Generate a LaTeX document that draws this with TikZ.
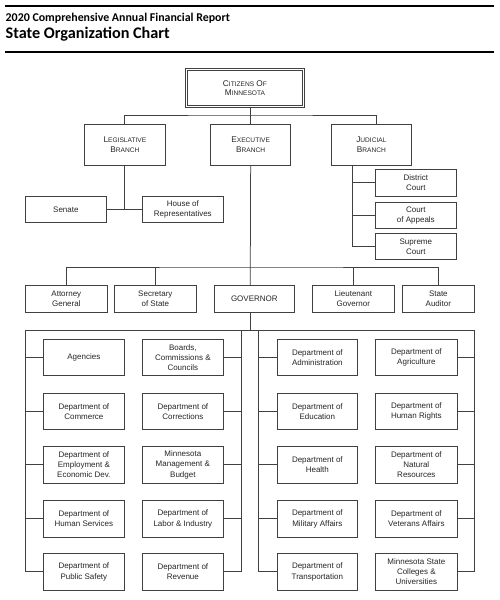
\documentclass[tikz,border=0pt]{standalone}
\usepackage{fontspec}
\setmainfont{Liberation Sans}
\newfontfamily\hdrfont{Carlito}
\newcommand\scx[2]{{\fontsize{8.3}{10}\selectfont #1}{\fontsize{6.6}{10}\selectfont #2}}
\tikzset{
  box/.style={draw=black!75, line width=0.7pt, fill=white, align=center, text=black!85,
    font=\fontsize{8}{10.2}\selectfont, inner sep=0pt, anchor=north west},
  conn/.style={draw=black!75, line width=0.75pt},
  rulel/.style={draw=black, line width=2pt},
  ttl/.style={anchor=base west, inner sep=0pt, text=black},
}
\begin{document}
\begin{tikzpicture}[x=1pt,y=-1pt]
\useasboundingbox[fill=white] (0,0) rectangle (500,600);
% header
\draw[rulel] (5,6) -- (494,6);
\node[ttl, font=\hdrfont\bfseries\fontsize{11.9}{13}\selectfont] (t1) at (5.5,21) {2020 Comprehensive Annual Financial Report};
\node[ttl, font=\hdrfont\bfseries\fontsize{16.2}{18}\selectfont] (t2) at (5.5,38.5) {State Organization Chart};
\draw[rulel, line width=2.3pt] (5,52) -- (494,52);

% citizens
\node[box, minimum width=117pt, minimum height=37pt, line width=0.9pt, double=white, double distance=1.4pt] (cit) at (186,69)
  {\scx{C}{ITIZENS} \scx{O}{F}\\[-1.5pt]\scx{M}{INNESOTA}};

% branches
\node[box, minimum width=81pt, minimum height=41pt] (leg) at (84,124) {\scx{L}{EGISLATIVE}\\\scx{B}{RANCH}};
\node[box, minimum width=80pt, minimum height=41pt] (exe) at (210.3,124) {\scx{E}{XECUTIVE}\\\scx{B}{RANCH}};
\node[box, minimum width=80pt, minimum height=41pt] (jud) at (331,124) {\scx{J}{UDICIAL}\\\scx{B}{RANCH}};
\coordinate (j1) at (250.3,115);
\coordinate (jd) at (376,124);
\draw[conn] (cit.south -| exe.north) -- (exe.north);
\draw[conn] (leg.north) |- (j1) -| (jd);

% legislative
\node[box, minimum width=81pt, minimum height=26pt] (sen) at (25,196) {Senate};
\node[box, minimum width=81pt, minimum height=26pt] (hou) at (142,196) {House of\\Representatives};
\draw[conn] (leg.south) -- (leg.south |- sen.east);
\draw[conn] (sen.east) -- (hou.west);

% judicial
\node[box, minimum width=81pt, minimum height=27pt] (dis) at (375,169) {District\\Court};
\node[box, minimum width=81pt, minimum height=26pt] (app) at (375,202) {Court\\of Appeals};
\node[box, minimum width=81pt, minimum height=26pt] (sup) at (375,233) {Supreme\\Court};
\coordinate (jv) at (352,165);
\draw[conn] (jv) |- (sup.west);
\draw[conn] (jv |- dis.west) -- (dis.west);
\draw[conn] (jv |- app.west) -- (app.west);

% officials
\node[box, minimum width=82pt, minimum height=27pt] (ag) at (25,285) {Attorney\\General};
\node[box, minimum width=82pt, minimum height=27pt] (ss) at (114,285) {Secretary\\of State};
\node[box, minimum width=80pt, minimum height=27pt] (gov) at (214,285) {GOVERNOR};
\node[box, minimum width=82pt, minimum height=27pt] (lg) at (312,285) {Lieutenant\\Governor};
\node[box, minimum width=72pt, minimum height=27pt] (sa) at (402,285) {State\\Auditor};
\coordinate (b2) at (250.3,267);
\coordinate (gt) at (250.3,285);
\coordinate (gb) at (250.3,312);
\coordinate (b3) at (250.3,330);
\draw[conn] (exe.south) -- (b2) -- (gt);
\draw[conn] (ag.north) |- (b2) -| (sa.north);
\draw[conn] (ss.north) -- (ss.north |- b2);
\draw[conn] (lg.north) -- (lg.north |- b2);
\draw[conn] (gb) -- (b3);

% departments - left panel
\node[box, minimum width=81pt, minimum height=36pt] (a1) at (43,339) {Agencies};
\node[box, minimum width=81pt, minimum height=36pt] (a2) at (43,393) {Department of\\Commerce};
\node[box, minimum width=81pt, minimum height=37pt] (a3) at (43,446) {Department of\\Employment \&\\Economic Dev.};
\node[box, minimum width=81pt, minimum height=37pt] (a4) at (43,500) {Department of\\Human Services};
\node[box, minimum width=81pt, minimum height=37pt] (a5) at (43,553) {Department of\\Public Safety};
\node[box, minimum width=81pt, minimum height=36pt] (b1) at (142,339) {Boards,\\Commissions \&\\Councils};
\node[box, minimum width=81pt, minimum height=36pt] (bb2) at (142,393) {Department of\\Corrections};
\node[box, minimum width=81pt, minimum height=37pt] (bb3) at (142,446) {Minnesota\\Management \&\\Budget};
\node[box, minimum width=81pt, minimum height=37pt] (bb4) at (142,500) {Department of\\Labor \& Industry};
\node[box, minimum width=81pt, minimum height=37pt] (bb5) at (142,553) {Department of\\Revenue};
% right panel
\node[box, minimum width=80pt, minimum height=36pt] (c1) at (277,339) {Department of\\Administration};
\node[box, minimum width=80pt, minimum height=36pt] (c2) at (277,393) {Department of\\Education};
\node[box, minimum width=80pt, minimum height=37pt] (c3) at (277,446) {Department of\\Health};
\node[box, minimum width=80pt, minimum height=37pt] (c4) at (277,500) {Department of\\Military Affairs};
\node[box, minimum width=80pt, minimum height=37pt] (c5) at (277,553) {Department of\\Transportation};
\node[box, minimum width=82pt, minimum height=36pt] (d1) at (375,339) {Department of\\Agriculture};
\node[box, minimum width=82pt, minimum height=36pt] (d2) at (375,393) {Department of\\Human Rights};
\node[box, minimum width=82pt, minimum height=37pt] (d3) at (375,446) {Department of\\Natural\\Resources};
\node[box, minimum width=82pt, minimum height=37pt] (d4) at (375,500) {Department of\\Veterans Affairs};
\node[box, minimum width=82pt, minimum height=37pt] (d5) at (375,553) {Minnesota State\\Colleges \&\\Universities};

\coordinate (p1) at (25,330);
\coordinate (p2) at (241,330);
\coordinate (p3) at (258,330);
\coordinate (p4) at (474,330);
\draw[conn] (p1) -- (p4);
\draw[conn] (p1) |- (a5.west);
\draw[conn] (p2) |- (bb5.east);
\draw[conn] (p3) |- (c5.west);
\draw[conn] (p4) |- (d5.east);
\foreach \n in {a1,a2,a3,a4} \draw[conn] (\n.west -| p1) -- (\n.west);
\foreach \n in {b1,bb2,bb3,bb4} \draw[conn] (\n.east -| p2) -- (\n.east);
\foreach \n in {c1,c2,c3,c4} \draw[conn] (\n.west -| p3) -- (\n.west);
\foreach \n in {d1,d2,d3,d4} \draw[conn] (\n.east -| p4) -- (\n.east);
\end{tikzpicture}
\end{document}
